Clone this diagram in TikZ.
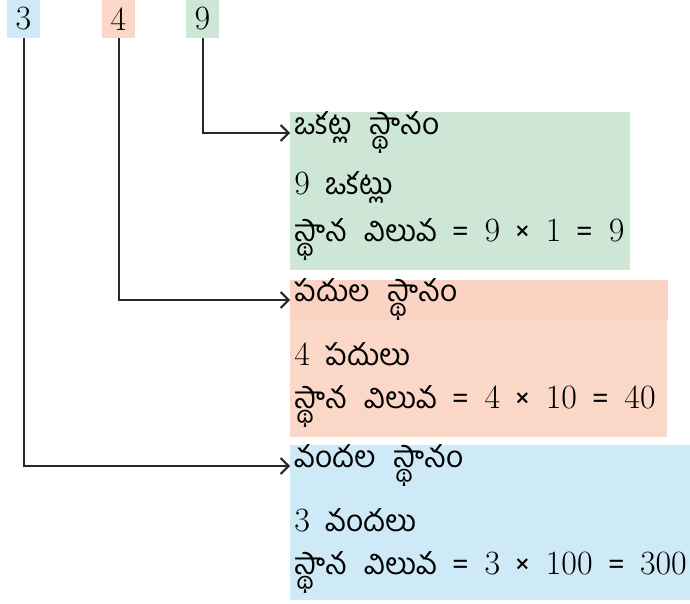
\documentclass[tikz,border=0pt]{standalone}
\usepackage{fontspec}
\setmainfont{Latin Modern Roman}[WordSpace=1.5]
\newfontfamily\telugu[Script=Telugu, Scale=0.88, WordSpace=2.4]{Hind Guntur}
\newcommand{\eqsign}{{\telugu =}}
\newcommand{\timessign}{{\telugu ×}}
\definecolor{HundredBlue}{RGB}{206,234,247}
\definecolor{TenOrange}{RGB}{251,215,200}
\definecolor{TenOrangeTop}{RGB}{251,211,195}
\definecolor{OneGreen}{RGB}{205,230,214}
\definecolor{LinkGray}{RGB}{40,40,40}
\usepackage{tikz}
\usetikzlibrary{positioning, arrows.meta}

\tikzset{
  digitbox/.style={inner sep=0pt, minimum width=16.5pt, minimum height=19pt, font=\fontsize{17}{20}\selectfont},
  placebox/.style={anchor=north west, inner sep=0pt},
  placeline/.style={anchor=west, inner xsep=2pt, inner ysep=0pt, font=\fontsize{17}{20}\selectfont},
  link/.style={LinkGray, line width=1pt, -{Straight Barb[length=4pt, width=8pt]}},
}

\begin{document}
\begin{tikzpicture}[x=0.5pt, y=-0.5pt]
\useasboundingbox (0,0) rectangle (690,604);

% digits of 349
\node[digitbox, fill=HundredBlue] (d3) at (23.5,19) {3};
\node[digitbox, fill=TenOrange] (d4) at (118.5,19) {4};
\node[digitbox, fill=OneGreen] (d9) at (202.5,19) {9};

% coloured boxes
\node[placebox, fill=OneGreen, minimum width=170pt, minimum height=79pt] (ones) at (290,112) {};
\node[placebox, fill=TenOrange, minimum width=188.5pt, minimum height=78.5pt] (tens) at (290,280) {};
\fill[TenOrangeTop] (tens.north west) rectangle ([yshift=-20pt]tens.north east);
\node[placebox, fill=HundredBlue, minimum width=200pt, minimum height=77.5pt] (hundreds) at (290,445) {};

% ones place
\node[placeline] (o1) at (290,133) {\telugu ఒకట్ల స్థానం};
\node[placeline] (o2) at (290,187) {9 {\telugu ఒకట్లు}};
\node[placeline] (o3) at (290,240) {{\telugu స్థాన విలువ} \eqsign{} 9 \timessign{} 1 \eqsign{} 9};

% tens place
\node[placeline] (t1) at (290,300) {\telugu పదుల స్థానం};
\node[placeline] (t2) at (290,354) {4 {\telugu పదులు}};
\node[placeline] (t3) at (290,407) {{\telugu స్థాన విలువ} \eqsign{} 4 \timessign{} 10 \eqsign{} 40};

% hundreds place
\node[placeline] (h1) at (290,466) {\telugu వందల స్థానం};
\node[placeline] (h2) at (290,520) {3 {\telugu వందలు}};
\node[placeline] (h3) at (290,573) {{\telugu స్థాన విలువ} \eqsign{} 3 \timessign{} 100 \eqsign{} 300};

% arrows
\draw[link] (d9.south) |- (o1.west);
\draw[link] (d4.south) |- (t1.west);
\draw[link] (d3.south) |- (h1.west);
\end{tikzpicture}
\end{document}
